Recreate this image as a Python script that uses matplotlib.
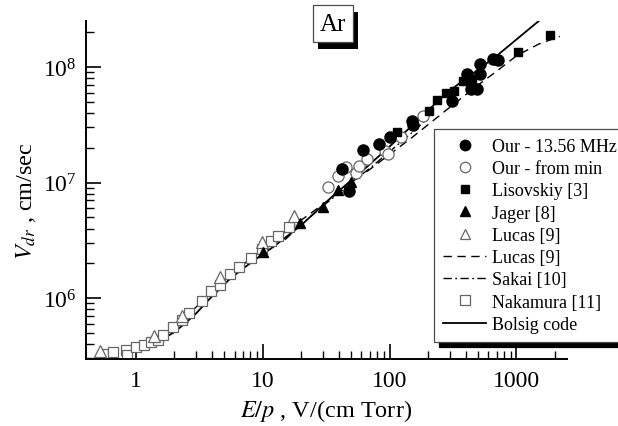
import matplotlib
matplotlib.use("Agg")
import matplotlib.pyplot as plt
from matplotlib.ticker import LogLocator, FixedLocator, FixedFormatter, NullFormatter
from matplotlib.lines import Line2D
from matplotlib.patches import Rectangle

plt.rcParams['font.family'] = ['Liberation Serif', 'DejaVu Serif']
plt.rcParams['mathtext.fontset'] = 'stix'

# Nakamura [11] - open squares
nak_x = [0.556, 0.66, 0.83, 0.85, 1.0, 1.15, 1.32, 1.49, 1.65, 1.98, 2.3, 2.62,
         3.33, 3.95, 4.57, 5.53, 6.56, 8.15, 9.84, 11.6, 13.3, 16.2]
nak_y = [3.27e5, 3.39e5, 3.57e5, 3.2e5, 3.79e5, 3.94e5, 4.13e5, 4.33e5, 4.78e5,
         5.65e5, 6.49e5, 7.5e5, 9.5e5, 1.16e6, 1.3e6, 1.61e6, 1.84e6, 2.21e6,
         2.66e6, 3.1e6, 3.42e6, 4.14e6]

# Lucas [9] - open triangles
luc_x = [0.52, 1.40, 2.3, 4.57, 9.84, 17.8]
luc_y = [3.5e5, 4.72e5, 7.03e5, 1.51e6, 3.03e6, 5.1e6]

# Jager [8] - filled triangles
jag_x = [10.1, 19.7, 30, 39.5, 49.8]
jag_y = [2.49e6, 4.46e6, 6.1e6, 8.67e6, 1.02e7]

# Our - 13.56 MHz - filled circles
our_x = [48, 42, 62, 82, 101, 150, 152, 313, 410, 517, 517, 436, 487, 658, 720]
our_y = [8.5e6, 1.31e7, 1.92e7, 2.15e7, 2.46e7, 3.43e7, 3.15e7, 5.1e7, 8.7e7,
         8.7e7, 1.06e8, 6.45e7, 6.45e7, 1.17e8, 1.14e8]

# Our - from min - open circles
min_x = [33, 39.5, 45.2, 54.5, 57.8, 66, 92, 98, 123, 185]
min_y = [9.1e6, 1.13e7, 1.36e7, 1.22e7, 1.40e7, 1.6e7, 1.88e7, 1.77e7, 2.46e7, 3.78e7]

# Lisovskiy [3] - filled squares
lis_x = [114, 205, 235, 279, 322, 381, 444, 1035, 1840]
lis_y = [2.72e7, 4.19e7, 5.17e7, 5.96e7, 6.24e7, 7.6e7, 7.87e7, 1.34e8, 1.88e8]

# Bolsig code - solid line
bol_x = [1, 1.5, 2, 2.5, 3, 3.8, 5.5, 7, 10, 12, 20, 36, 66, 100, 150, 283, 500,
         700, 1000, 1500]
bol_y = [3.55e5, 4.2e5, 5.05e5, 6.16e5, 7.4e5, 9.8e5, 1.46e6, 1.8e6, 2.4e6,
         2.75e6, 4.25e6, 7.7e6, 1.36e7, 2.05e7, 3.1e7, 6.0e7, 9.5e7, 1.25e8,
         1.73e8, 2.5e8]

# Lucas [9] - dashed line
lud_x = [1.0, 1.3, 1.7, 2.0, 2.5, 3.0, 4.0, 5.0, 7.0, 10, 15, 20, 30, 50, 70,
         100, 150, 200, 300, 500, 700, 1000, 1500, 2200]
lud_y = [3.8e5, 4.1e5, 4.7e5, 5.5e5, 7.0e5, 8.4e5, 1.15e6, 1.45e6, 1.95e6,
         2.65e6, 3.7e6, 4.7e6, 6.5e6, 1.0e7, 1.3e7, 1.75e7, 2.45e7, 3.15e7,
         4.5e7, 7.0e7, 9.2e7, 1.25e8, 1.58e8, 1.84e8]

# Sakai [10] - dash-dot line
sak_x = [15, 20, 30, 40, 50, 70, 100, 150, 200]
sak_y = [3.2e6, 4.3e6, 6.3e6, 8.1e6, 1.0e7, 1.33e7, 1.85e7, 2.7e7, 3.6e7]

x_ticks = [1, 10, 100, 1000]
x_tick_labels = ['1', '10', '100', '1000']

W, H = 618, 427
fig = plt.figure(figsize=(W / 100, H / 100), dpi=100)
ax = fig.add_axes([86/W, 67/H, 480.7/W, 338/H])

ax.plot(bol_x, bol_y, '-', color='black', lw=1.3)
ax.plot(lud_x, lud_y, '--', color='black', lw=1.0, dashes=(6, 4))
ax.plot(sak_x, sak_y, '-.', color='black', lw=1.0, dashes=(6, 2.5, 1.2, 2.5))

gray = '0.4'
ax.plot(nak_x, nak_y, 's', ms=7, mfc='white', mec=gray, mew=0.9, ls='none')
ax.plot(luc_x, luc_y, '^', ms=8, mfc='white', mec=gray, mew=0.9, ls='none')
ax.plot(jag_x, jag_y, '^', ms=7.5, color='black', ls='none')
ax.plot(min_x, min_y, 'o', ms=8, mfc='white', mec=gray, mew=0.9, ls='none')
ax.plot(our_x, our_y, 'o', ms=8, color='black', ls='none')
ax.plot(lis_x, lis_y, 's', ms=5.5, color='black', ls='none')

ax.set_xscale('log')
ax.set_yscale('log')
ax.set_xlim(0.405, 2490)
ax.set_ylim(2.97e5, 2.5e8)

for s in ['top', 'right']:
    ax.spines[s].set_visible(False)
for s in ['left', 'bottom']:
    ax.spines[s].set_linewidth(1.4)

ax.xaxis.set_major_locator(FixedLocator(x_ticks))
ax.xaxis.set_major_formatter(FixedFormatter(x_tick_labels))
ax.xaxis.set_minor_locator(LogLocator(base=10, subs=range(2, 10)))
ax.xaxis.set_minor_formatter(NullFormatter())
ax.yaxis.set_major_locator(LogLocator(base=10))
ax.yaxis.set_minor_locator(LogLocator(base=10, subs=range(2, 10)))
ax.yaxis.set_minor_formatter(NullFormatter())

ax.tick_params(which='major', direction='in', length=11, width=1.2, labelsize=17)
ax.tick_params(which='minor', direction='in', length=6, width=1.0)
ax.tick_params(axis='x', pad=8)
ax.tick_params(axis='y', pad=7)

ax.set_xlabel('$E/p$ , V/(cm Torr)', fontsize=17.5, labelpad=4)
ax.set_ylabel('$V_{dr}$ , cm/sec', fontsize=17.5)
ax.yaxis.set_label_coords(-0.1, 0.47)

# "Ar" title box with black shadow
fig.patches.append(Rectangle((318/W, 1 - 50/H), 40/W, 37/H, transform=fig.transFigure,
                             fc='black', ec='none', zorder=5))
fig.patches.append(Rectangle((313/W, 1 - 43/H), 40/W, 37/H, transform=fig.transFigure,
                             fc='white', ec='0.3', lw=0.9, zorder=6))
fig.text(333/W, 1 - 25/H, 'Ar', fontsize=18, ha='center', va='center', zorder=7)

handles = [
    Line2D([], [], marker='o', ls='none', color='black', ms=7.5),
    Line2D([], [], marker='o', ls='none', mfc='white', mec=gray, mew=0.9, ms=7.5),
    Line2D([], [], marker='s', ls='none', color='black', ms=5.5),
    Line2D([], [], marker='^', ls='none', color='black', ms=7.5),
    Line2D([], [], marker='^', ls='none', mfc='white', mec=gray, mew=0.9, ms=7.5),
    Line2D([], [], ls='--', color='black', lw=1.0, dashes=(6, 4)),
    Line2D([], [], ls='-.', color='black', lw=1.0, dashes=(6, 2.5, 1.2, 2.5)),
    Line2D([], [], marker='s', ls='none', mfc='white', mec=gray, mew=0.9, ms=6.5),
    Line2D([], [], ls='-', color='black', lw=1.3),
]
labels = ['Our - 13.56 MHz', 'Our - from min', 'Lisovskiy [3]', 'Jager [8]',
          'Lucas [9]', 'Lucas [9]', 'Sakai [10]', 'Nakamura [11]', 'Bolsig code']

leg = fig.legend(handles, labels, loc='upper left', bbox_to_anchor=(434/W, 1 - 130/H),
                 fontsize=13, frameon=True, fancybox=False, handlelength=2.4,
                 handletextpad=0.3, labelspacing=0.29, borderpad=0.5, borderaxespad=0,
                 shadow={'ox': 3.5, 'oy': -3.5, 'color': 'black', 'alpha': 1})
leg.get_frame().set_edgecolor('0.3')
leg.get_frame().set_linewidth(0.9)
leg.get_frame().set_alpha(1)

fig.savefig('out.png', dpi=100)
